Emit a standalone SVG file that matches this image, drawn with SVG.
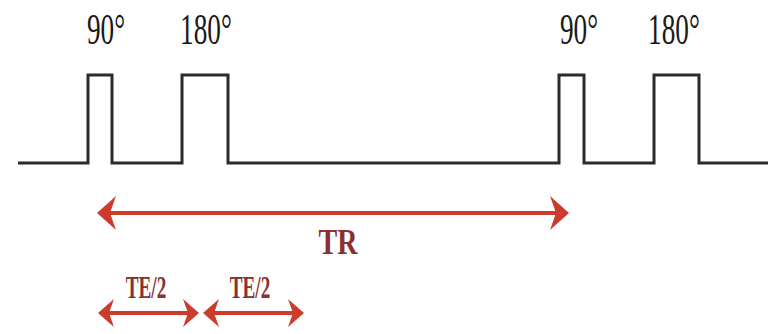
<svg xmlns="http://www.w3.org/2000/svg" width="772" height="334" viewBox="0 0 772 334">
<style>
.pulse{fill:none;stroke:#2b2b2b;stroke-width:3;stroke-linejoin:miter}
.lbl{font-family:"Liberation Serif","Times New Roman",serif;font-size:44px;fill:#1a1a1a;text-anchor:middle}
.red{stroke:#cc3b2b;stroke-width:4;fill:none}
.head{fill:#cc3b2b}
.rlbl{font-family:"Liberation Serif","Times New Roman",serif;fill:#8a3030;text-anchor:middle}
</style>
<rect width="772" height="334" fill="#ffffff"/>
<g id="sequence">
<path class="pulse" d="M18,163 H88 V75 H112 V163 H182 V75 H228 V163 H559 V75 H584 V163 H654 V75 H699 V163 H768"/>
</g>
<g id="labels">
<text class="lbl" transform="translate(106,44) scale(0.62,1)">90°</text>
<text class="lbl" transform="translate(206,44) scale(0.62,1)">180°</text>
<text class="lbl" transform="translate(579,44) scale(0.62,1)">90°</text>
<text class="lbl" transform="translate(674,44) scale(0.62,1)">180°</text>
</g>
<g id="connectors">
<line class="red" x1="108" y1="213" x2="558" y2="213"/>
<path class="head" d="M97,213 L116,196 L110,213 L116,230 Z"/>
<path class="head" d="M569,213 L550,196 L556,213 L550,230 Z"/>
<line class="red" x1="106" y1="313" x2="190" y2="313"/>
<path class="head" d="M98,313 L114,299 L109,313 L114,327 Z"/>
<path class="head" d="M199,313 L183,299 L188,313 L183,327 Z"/>
<line class="red" x1="211" y1="313" x2="295" y2="313"/>
<path class="head" d="M203,313 L219,299 L214,313 L219,327 Z"/>
<path class="head" d="M304,313 L288,299 L293,313 L288,327 Z"/>
</g>
<g id="tr-label"><text class="rlbl" font-size="36" font-weight="600" transform="translate(338,254) scale(0.78,1)">TR</text></g>
<g id="te1-label"><text class="rlbl" font-size="31" font-weight="bold" transform="translate(146,298) scale(0.62,1)">TE/2</text></g>
<g id="te2-label"><text class="rlbl" font-size="31" font-weight="bold" transform="translate(250,298) scale(0.62,1)">TE/2</text></g>
</svg>
